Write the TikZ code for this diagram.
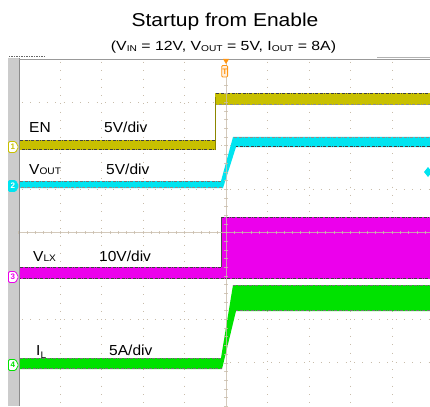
\documentclass[tikz,border=0pt]{standalone}
\usepackage{fontspec}
\setmainfont{Liberation Sans}
\definecolor{enY}{RGB}{200,192,0}
\definecolor{voC}{RGB}{0,228,240}
\definecolor{lxM}{RGB}{236,0,236}
\definecolor{ilG}{RGB}{0,226,0}
\definecolor{gridc}{RGB}{200,188,170}
\definecolor{trigO}{RGB}{255,150,20}
\definecolor{barG}{RGB}{204,204,204}
\newcommand\scopetag[5]{%
  \draw[#2,fill=#3,line width=0.8pt,rounded corners=1.2pt]
    (8.5,#1-5.5) -- (15.5,#1-5.5) -- (18.5,#1) -- (15.5,#1+5.5) -- (8.5,#1+5.5) -- cycle;
  \node[text=#4,font=\fontsize{8}{8}\selectfont\bfseries,inner sep=0pt] (tag#5) at (12.8,#1) {#5};}
\begin{document}
\begin{tikzpicture}[x=1pt,y=-1pt,
  griddot/.style={draw=gridc,line width=0.7pt,dash pattern=on 0.7pt off 7.6pt},
  noise/.style={draw=black!75,line width=0.5pt,dash pattern=on 1.5pt off 0.8pt on 0.5pt off 2pt on 3pt off 1pt on 0.7pt off 1.5pt},
  lbl/.style={anchor=base west,inner sep=0pt,font=\fontsize{14.5}{16}\selectfont,xscale=1.07}]
\useasboundingbox (0,0) rectangle (430,406);
\fill[white] (0,0) rectangle (430,406);
% title
\node[anchor=base,inner sep=0pt,font=\fontsize{18.6}{20}\selectfont,xscale=1.13] (title) at (225,27) {Startup from Enable};
\node[anchor=base,inner sep=0pt,font=\fontsize{13.2}{14}\selectfont,xscale=1.2] (subtitle) at (223.5,50.5)
  {(V{\fontsize{8.5}{9}\selectfont\raisebox{-0.8pt}{IN}} = 12V, V{\fontsize{8.5}{9}\selectfont\raisebox{-0.8pt}{OUT}} = 5V, I{\fontsize{8.5}{9}\selectfont\raisebox{-0.8pt}{OUT}} = 8A)};
% frame
\fill[barG] (8,58) rectangle (19,406);
\draw[black!45,line width=0.6pt] (19,58) -- (19,406);
\draw[black!40,line width=0.8pt] (19,59) -- (430,59);
\draw[black!30,line width=0.6pt] (377,57) -- (430,57);
\draw[black!60,line width=0.8pt,dash pattern=on 1pt off 1pt on 2pt off 1pt] (9,56.5) -- (46,56.5);
% grid
\foreach \gx in {60,101.5,143,184.5,267.5,309,350.5,392}
  \draw[griddot] (\gx,62) -- (\gx,406);
\foreach \gy in {102.4,145.8,189.2,276,319.4,362.8}
  \draw[griddot] (22,\gy) -- (430,\gy);
% EN trace
\fill[enY] (20,140) rectangle (215,150);
\fill[enY] (215,93) rectangle (430,105);
\draw[enY!70!black,line width=0.6pt] (215,150) -- (215,97);
\draw[noise] (20,140.5) -- (215,140.5);
\draw[noise,dash phase=3pt] (20,149.6) -- (215,149.6);
\draw[noise] (216,93.5) -- (430,93.5);
\draw[noise,dash phase=2pt,draw=black!45] (216,104.6) -- (430,104.6);
% VOUT trace
\fill[voC] (20,181) -- (221,181) -- (233,137) -- (430,137) -- (430,147) -- (236,147) -- (223,188) -- (20,188) -- cycle;
\draw[noise,draw=black!55] (20,181.4) -- (221,181.4);
\draw[noise,dash phase=4pt,draw=black!45] (20,187.6) -- (222,187.6);
\draw[noise,draw=black!45] (234,137.4) -- (430,137.4);
\draw[noise,dash phase=1pt] (236,146.6) -- (430,146.6);
\fill[voC] (424,172) -- (428,167) -- (432,172) -- (428,177) -- cycle;
% VLX trace
\fill[lxM] (20,267) rectangle (221,279);
\fill[lxM] (221,217) rectangle (430,279);
\draw[black!70,line width=0.6pt] (221,267) -- (221,217.3);
\draw[noise] (20,267.5) -- (221,267.5);
\draw[noise] (221,217.5) -- (430,217.5);
\draw[noise,dash phase=2pt] (20,278.6) -- (430,278.6);
% IL trace
\fill[ilG] (20,358) -- (221,358) -- (233,285) -- (430,285) -- (430,311) -- (236,311) -- (222,369) -- (20,369) -- cycle;
\draw[noise,draw=black!55] (20,358.5) -- (221,358.5);
\draw[noise,dash phase=3pt,draw=black!55] (20,368.6) -- (222,368.6);
\draw[noise,draw=black!55] (233,285.5) -- (430,285.5);
\draw[noise,dash phase=1pt,draw=black!55] (236,310.6) -- (430,310.6);
% centre lines with ticks
\draw[gridc,line width=0.6pt,opacity=0.8] (20,232.6) -- (430,232.6);
\draw[gridc,line width=0.6pt,opacity=0.8] (226,62) -- (226,406);
\foreach \t in {0,...,49}
  \draw[gridc,line width=0.6pt,opacity=0.8] ({18.5+8.3*\t},231) -- ({18.5+8.3*\t},234.2);
\foreach \t in {0,...,41}
  \draw[gridc,line width=0.6pt,opacity=0.8] (224.4,{59+8.68*\t}) -- (227.6,{59+8.68*\t});
% trigger marker
\fill[trigO] (223,59) -- (229,59) -- (226,64) -- cycle;
\draw[trigO,line width=0.8pt,fill=trigO!15,rounded corners=1pt] (221.8,65.5) rectangle (227.6,77);
\node[text=trigO,font=\fontsize{8}{8}\selectfont\bfseries,inner sep=0pt] (trigT) at (224.7,71.3) {T};
% channel tags
\scopetag{147}{enY}{white}{enY}{1}
\scopetag{186}{voC}{voC}{white}{2}
\scopetag{277}{lxM}{white}{lxM}{3}
\scopetag{365}{ilG}{white}{ilG}{4}
% labels
\node[lbl] (lEN) at (29,132.5) {EN};
\node[lbl] (sEN) at (104,132.5) {5V/div};
\node[lbl] (lVO) at (29,174) {V{\fontsize{9.5}{10}\selectfont OUT}};
\node[lbl] (sVO) at (106,174) {5V/div};
\node[lbl] (lLX) at (33,261) {V{\fontsize{9.5}{10}\selectfont LX}};
\node[lbl] (sLX) at (99,261) {10V/div};
\node[lbl] (lIL) at (36,355) {I{\fontsize{9.5}{10}\selectfont\raisebox{-3pt}{L}}};
\node[lbl] (sIL) at (109,355) {5A/div};
\end{tikzpicture}
\end{document}
